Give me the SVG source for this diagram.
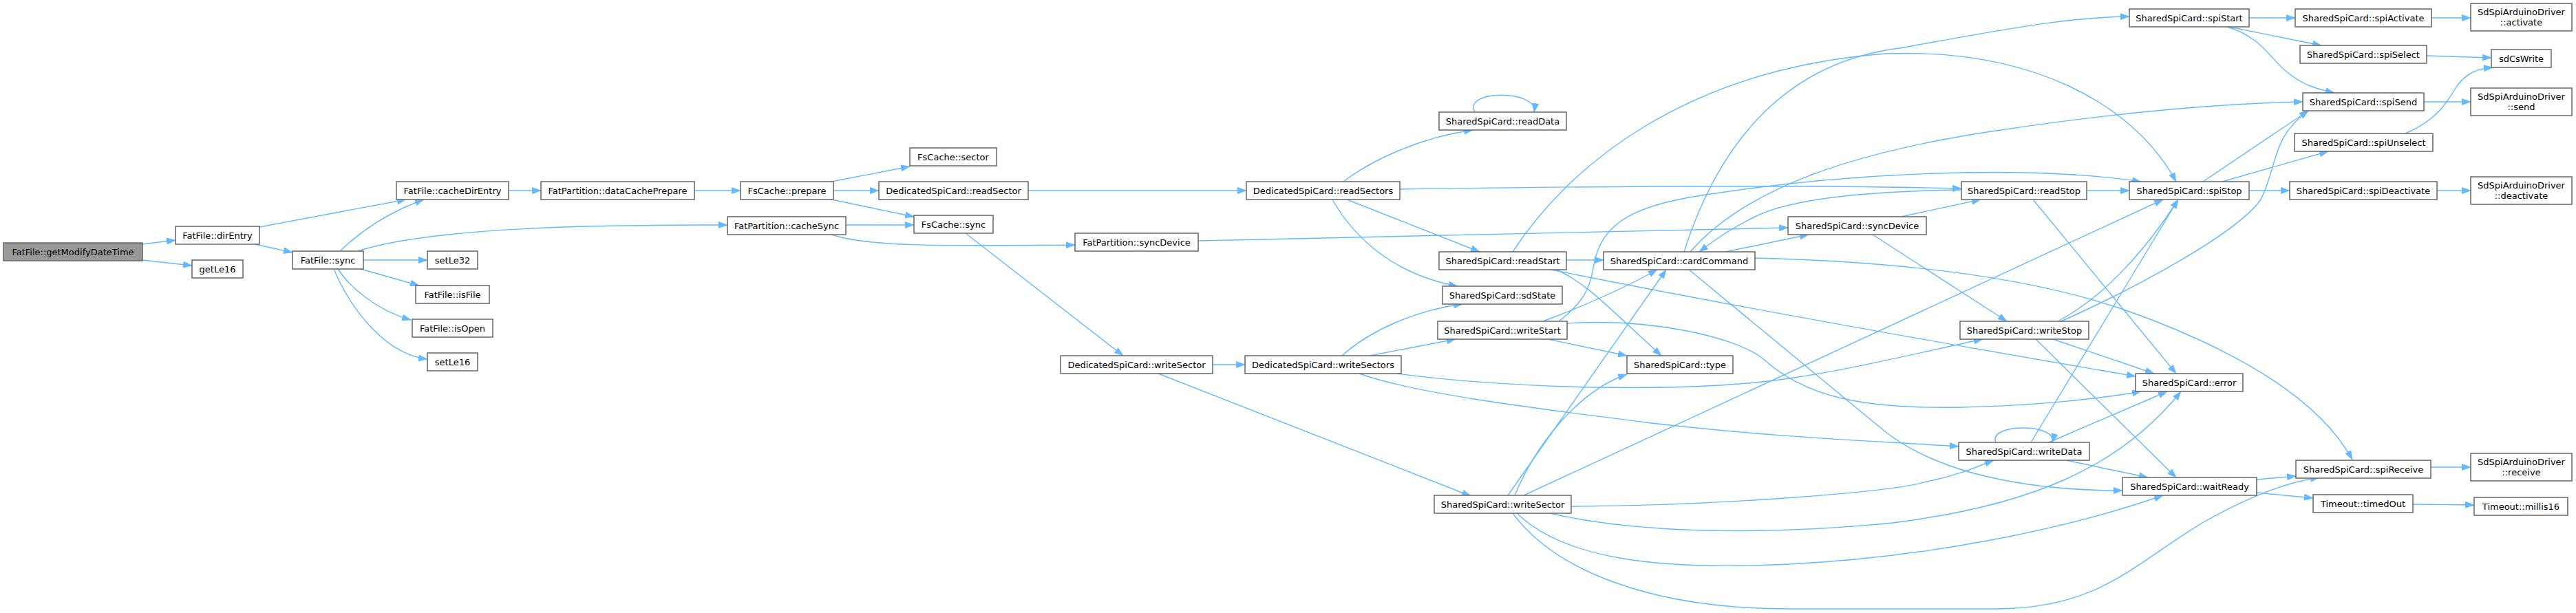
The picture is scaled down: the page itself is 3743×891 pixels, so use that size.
<svg xmlns="http://www.w3.org/2000/svg" width="3743" height="891" viewBox="0 0 3743 891">
<style>
.e{fill:none;stroke:#63b8ff;stroke-width:1.4;marker-end:url(#ah)}
.n rect{fill:#ffffff;stroke:#666666;stroke-width:1.5}
.root rect{fill:#999999}
text{font-family:"DejaVu Sans",Verdana,sans-serif;font-size:13px;text-anchor:middle;fill:#000000}
</style>
<defs>
<marker id="ah" markerUnits="userSpaceOnUse" markerWidth="14" markerHeight="10" viewBox="0 0 14 10" refX="13" refY="5" orient="auto"><path d="M0,0 L14,5 L0,10 z" fill="#63b8ff"/></marker>
</defs>
<rect x="0" y="0" width="3743" height="891" fill="#ffffff"/>
<g id="connectors">
<path class="e" d="M207,355 L255,349"/>
<path class="e" d="M207,378 L279,386"/>
<path class="e" d="M377,330 L590,290"/>
<path class="e" d="M371,355 L425,367"/>
<path class="e" d="M739,277 L786,277"/>
<path class="e" d="M1009,277 L1076,277"/>
<path class="e" d="M1208,264 L1322,242"/>
<path class="e" d="M1211,277 L1277,277"/>
<path class="e" d="M1208,290 L1328,315"/>
<path class="e" d="M494,365 C520,340 560,310 616,290"/>
<path class="e" d="M520,365 C580,345 700,333 850,329 C950,327 1000,327 1057,327"/>
<path class="e" d="M528,378 L621,378"/>
<path class="e" d="M524,391 L609,415"/>
<path class="e" d="M491,391 C510,420 550,452 597,465"/>
<path class="e" d="M485,391 C510,450 560,515 621,522"/>
<path class="e" d="M1229,327 L1328,327"/>
<path class="e" d="M1208,341 C1260,358 1350,358 1562,356"/>
<path class="e" d="M1403,339 L1632,517"/>
<path class="e" d="M1494,277 L1811,277"/>
<path class="e" d="M1741,350 L2598,331"/>
<path class="e" d="M1952,264 C1990,235 2060,200 2140,189"/>
<path class="e" d="M2143,163 C2125,130 2235,130 2229,163"/>
<path class="e" d="M1957,290 L2150,366"/>
<path class="e" d="M1936,290 C1970,350 2030,400 2118,416"/>
<path class="e" d="M2034,275 C2300,271 2600,268 2850,274"/>
<path class="e" d="M2276,378 L2330,378"/>
<path class="e" d="M2198,366 C2280,240 2450,100 2740,78 C2950,70 3100,150 3162,264"/>
<path class="e" d="M2249,391 C2500,442 2800,495 3103,547"/>
<path class="e" d="M2262,392 C2305,412 2330,440 2414,517"/>
<path class="e" d="M2850,276 C2700,278 2600,290 2550,315 C2510,335 2490,350 2469,366"/>
<path class="e" d="M3032,277 L3094,277"/>
<path class="e" d="M2954,290 L3162,543"/>
<path class="e" d="M2507,366 L2628,341"/>
<path class="e" d="M2456,366 C2540,270 2700,220 2900,190 C3100,160 3250,150 3346,148"/>
<path class="e" d="M2447,366 C2500,200 2600,90 2760,70 C2900,45 3000,25 3094,24"/>
<path class="e" d="M2453,391 L2740,628 C2820,690 2950,713 3084,713"/>
<path class="e" d="M2550,375 C2750,380 2950,400 3100,455 C3250,510 3370,580 3418,668"/>
<path class="e" d="M2762,315 L2878,290"/>
<path class="e" d="M2721,341 L2916,467"/>
<path class="e" d="M2242,467 Q2340,430 2408,392"/>
<path class="e" d="M2265,467 C2300,440 2310,420 2315,390 C2325,320 2380,295 2500,280 C2700,250 2950,240 3111,264"/>
<path class="e" d="M2249,493 L2364,517"/>
<path class="e" d="M2277,470 C2400,462 2520,490 2560,520 C2620,575 2700,595 2850,592 C2950,590 3050,580 3111,569"/>
<path class="e" d="M1762,530 L1809,530"/>
<path class="e" d="M1683,543 L2137,721"/>
<path class="e" d="M1949,518 C1990,480 2060,450 2125,442"/>
<path class="e" d="M1990,517 L2115,493"/>
<path class="e" d="M2029,543 C2200,565 2450,572 2600,550 C2700,535 2800,510 2881,493"/>
<path class="e" d="M1975,543 C2050,570 2200,590 2400,615 C2600,638 2750,642 2846,649"/>
<path class="e" d="M2191,720 L2421,392"/>
<path class="e" d="M2201,720 C2230,650 2290,570 2364,544"/>
<path class="e" d="M2214,720 L3143,290"/>
<path class="e" d="M2283,736 C2500,735 2750,715 2800,700 C2850,690 2880,675 2897,669"/>
<path class="e" d="M2252,746 C2400,780 2600,775 2750,760 C2950,735 3080,680 3169,569"/>
<path class="e" d="M2204,746 C2270,810 2400,830 2600,820 C2800,810 3000,770 3143,720"/>
<path class="e" d="M2198,746 C2260,830 2400,885 2600,885 L2900,885 C3050,885 3100,820 3200,760 C3280,715 3330,700 3370,694"/>
<path class="e" d="M2983,493 L3130,543"/>
<path class="e" d="M2958,493 L3162,694"/>
<path class="e" d="M2990,467 C3060,430 3120,360 3165,290"/>
<path class="e" d="M2995,467 C3100,420 3250,340 3285,290 C3310,240 3300,200 3354,161"/>
<path class="e" d="M2900,643 C2888,615 2990,615 2982,643"/>
<path class="e" d="M2977,643 L3149,569"/>
<path class="e" d="M3002,669 L3121,694"/>
<path class="e" d="M2951,643 L3165,290"/>
<path class="e" d="M3268,26 L3335,26"/>
<path class="e" d="M3239,39 L3373,66"/>
<path class="e" d="M3236,39 C3290,55 3300,90 3330,110 C3350,125 3370,130 3392,135"/>
<path class="e" d="M3533,26 L3590,26"/>
<path class="e" d="M3526,81 L3620,84"/>
<path class="e" d="M3522,148 L3590,148"/>
<path class="e" d="M3495,194 C3540,175 3555,150 3570,125 C3585,105 3600,100 3622,98"/>
<path class="e" d="M3201,264 L3354,161"/>
<path class="e" d="M3229,264 L3383,220"/>
<path class="e" d="M3268,277 L3327,277"/>
<path class="e" d="M3541,277 L3590,277"/>
<path class="e" d="M3279,697 L3336,692"/>
<path class="e" d="M3279,716 L3361,724"/>
<path class="e" d="M3532,679 L3590,679"/>
<path class="e" d="M3506,733 L3595,734"/>
</g>
<g id="n1" class="n root"><rect x="5" y="353" width="202" height="26"/><text x="106" y="370.5">FatFile::getModifyDateTime</text></g>
<g id="n2" class="n"><rect x="255" y="329" width="122" height="26"/><text x="316" y="346.5">FatFile::dirEntry</text></g>
<g id="n3" class="n"><rect x="279" y="378" width="74" height="26"/><text x="316" y="395.5">getLe16</text></g>
<g id="n4" class="n"><rect x="425" y="365" width="103" height="26"/><text x="476.5" y="382.5">FatFile::sync</text></g>
<g id="n5" class="n"><rect x="576" y="264" width="163" height="26"/><text x="657.5" y="281.5">FatFile::cacheDirEntry</text></g>
<g id="n6" class="n"><rect x="786" y="264" width="223" height="26"/><text x="897.5" y="281.5">FatPartition::dataCachePrepare</text></g>
<g id="n7" class="n"><rect x="621" y="365" width="73" height="26"/><text x="657.5" y="382.5">setLe32</text></g>
<g id="n8" class="n"><rect x="604" y="415" width="107" height="26"/><text x="657.5" y="432.5">FatFile::isFile</text></g>
<g id="n9" class="n"><rect x="599" y="464" width="117" height="26"/><text x="657.5" y="481.5">FatFile::isOpen</text></g>
<g id="n10" class="n"><rect x="621" y="513" width="73" height="26"/><text x="657.5" y="530.5">setLe16</text></g>
<g id="n11" class="n"><rect x="1057" y="315" width="172" height="26"/><text x="1143" y="332.5">FatPartition::cacheSync</text></g>
<g id="n12" class="n"><rect x="1076" y="264" width="135" height="26"/><text x="1143.5" y="281.5">FsCache::prepare</text></g>
<g id="n13" class="n"><rect x="1322" y="215" width="126" height="26"/><text x="1385" y="232.5">FsCache::sector</text></g>
<g id="n14" class="n"><rect x="1277" y="264" width="217" height="26"/><text x="1385.5" y="281.5">DedicatedSpiCard::readSector</text></g>
<g id="n15" class="n"><rect x="1328" y="313" width="115" height="26"/><text x="1385.5" y="330.5">FsCache::sync</text></g>
<g id="n16" class="n"><rect x="1562" y="339" width="179" height="26"/><text x="1651.5" y="356.5">FatPartition::syncDevice</text></g>
<g id="n17" class="n"><rect x="1541" y="517" width="221" height="26"/><text x="1651.5" y="534.5">DedicatedSpiCard::writeSector</text></g>
<g id="n18" class="n"><rect x="1811" y="264" width="223" height="26"/><text x="1922.5" y="281.5">DedicatedSpiCard::readSectors</text></g>
<g id="n19" class="n"><rect x="1809" y="517" width="227" height="26"/><text x="1922.5" y="534.5">DedicatedSpiCard::writeSectors</text></g>
<g id="n20" class="n"><rect x="2091" y="163" width="185" height="26"/><text x="2183.5" y="180.5">SharedSpiCard::readData</text></g>
<g id="n21" class="n"><rect x="2091" y="366" width="185" height="26"/><text x="2183.5" y="383.5">SharedSpiCard::readStart</text></g>
<g id="n22" class="n"><rect x="2096" y="416" width="174" height="26"/><text x="2183" y="433.5">SharedSpiCard::sdState</text></g>
<g id="n23" class="n"><rect x="2089" y="467" width="188" height="26"/><text x="2183" y="484.5">SharedSpiCard::writeStart</text></g>
<g id="n24" class="n"><rect x="2084" y="720" width="199" height="26"/><text x="2183.5" y="737.5">SharedSpiCard::writeSector</text></g>
<g id="n25" class="n"><rect x="2330" y="366" width="220" height="26"/><text x="2440" y="383.5">SharedSpiCard::cardCommand</text></g>
<g id="n26" class="n"><rect x="2364" y="517" width="154" height="26"/><text x="2441" y="534.5">SharedSpiCard::type</text></g>
<g id="n27" class="n"><rect x="2598" y="315" width="201" height="26"/><text x="2698.5" y="332.5">SharedSpiCard::syncDevice</text></g>
<g id="n28" class="n"><rect x="2850" y="264" width="182" height="26"/><text x="2941" y="281.5">SharedSpiCard::readStop</text></g>
<g id="n29" class="n"><rect x="2848" y="467" width="187" height="26"/><text x="2941.5" y="484.5">SharedSpiCard::writeStop</text></g>
<g id="n30" class="n"><rect x="2846" y="643" width="190" height="26"/><text x="2941" y="660.5">SharedSpiCard::writeData</text></g>
<g id="n31" class="n"><rect x="3094" y="13" width="174" height="26"/><text x="3181" y="30.5">SharedSpiCard::spiStart</text></g>
<g id="n32" class="n"><rect x="3094" y="264" width="174" height="26"/><text x="3181" y="281.5">SharedSpiCard::spiStop</text></g>
<g id="n33" class="n"><rect x="3103" y="543" width="156" height="26"/><text x="3181" y="560.5">SharedSpiCard::error</text></g>
<g id="n34" class="n"><rect x="3084" y="694" width="195" height="26"/><text x="3181.5" y="711.5">SharedSpiCard::waitReady</text></g>
<g id="n35" class="n"><rect x="3335" y="13" width="198" height="26"/><text x="3434" y="30.5">SharedSpiCard::spiActivate</text></g>
<g id="n36" class="n"><rect x="3342" y="66" width="184" height="26"/><text x="3434" y="83.5">SharedSpiCard::spiSelect</text></g>
<g id="n37" class="n"><rect x="3346" y="135" width="176" height="26"/><text x="3434" y="152.5">SharedSpiCard::spiSend</text></g>
<g id="n38" class="n"><rect x="3334" y="194" width="201" height="26"/><text x="3434.5" y="211.5">SharedSpiCard::spiUnselect</text></g>
<g id="n39" class="n"><rect x="3327" y="264" width="214" height="26"/><text x="3434" y="281.5">SharedSpiCard::spiDeactivate</text></g>
<g id="n40" class="n"><rect x="3336" y="669" width="196" height="26"/><text x="3434" y="686.5">SharedSpiCard::spiReceive</text></g>
<g id="n41" class="n"><rect x="3361" y="719" width="145" height="26"/><text x="3433.5" y="736.5">Timeout::timedOut</text></g>
<g id="n42" class="n"><rect x="3590" y="5" width="147" height="40"/><text x="3663.5" y="21.5">SdSpiArduinoDriver</text><text x="3663.5" y="36.5">::activate</text></g>
<g id="n43" class="n"><rect x="3620" y="72" width="87" height="26"/><text x="3663.5" y="89.5">sdCsWrite</text></g>
<g id="n44" class="n"><rect x="3590" y="128" width="147" height="40"/><text x="3663.5" y="144.5">SdSpiArduinoDriver</text><text x="3663.5" y="159.5">::send</text></g>
<g id="n45" class="n"><rect x="3590" y="257" width="147" height="40"/><text x="3663.5" y="273.5">SdSpiArduinoDriver</text><text x="3663.5" y="288.5">::deactivate</text></g>
<g id="n46" class="n"><rect x="3590" y="659" width="147" height="40"/><text x="3663.5" y="675.5">SdSpiArduinoDriver</text><text x="3663.5" y="690.5">::receive</text></g>
<g id="n47" class="n"><rect x="3595" y="723" width="136" height="26"/><text x="3663" y="740.5">Timeout::millis16</text></g>
</svg>
